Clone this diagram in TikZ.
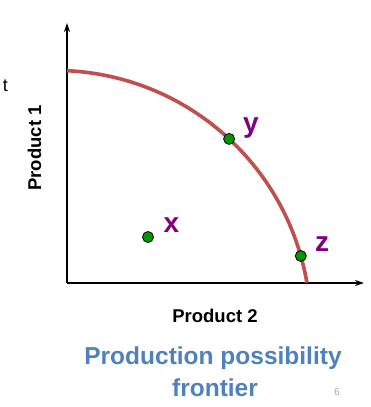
\documentclass[tikz,border=0pt]{standalone}
\usepackage{fontspec}
\setmainfont{Liberation Sans}
\usetikzlibrary{arrows.meta}
\definecolor{ppfred}{RGB}{192,80,77}
\definecolor{ptgreen}{RGB}{0,150,0}
\definecolor{ptpurple}{RGB}{128,0,128}
\definecolor{ttlblue}{RGB}{79,129,189}
\begin{document}
\begin{tikzpicture}[x=1pt,y=1pt,
  axis/.style={line width=1.4pt,-{Stealth[length=9pt,width=6pt]}},
  frontier/.style={ppfred,line width=3.6pt},
  dot/.style={circle,draw=black,line width=0.8pt,fill=ptgreen,minimum size=11pt,inner sep=0pt},
  ptlabel/.style={ptpurple,font=\fontsize{28}{30}\selectfont\bfseries,anchor=base,inner sep=0pt},
  axlabel/.style={font=\fontsize{18.5}{20}\selectfont\bfseries,anchor=base,inner sep=0pt}]
  \useasboundingbox (-67,-124) rectangle (304,283);
  % Axes
  \coordinate (o) at (0,0);
  \coordinate (ytip) at (0,260);
  \coordinate (xtip) at (297,0);
  \draw[axis] (o) -- (ytip);
  \draw[axis] (o) -- (xtip);
  % Frontier
  \coordinate (c) at (-12,-43);
  \draw[frontier] ([shift={(87.3:255.6pt)}]c) arc[start angle=87.3,end angle=9.75,radius=255.6pt];
  % Points
  \node[dot] (px) at (81,46) {};
  \node[dot] (py) at ([shift={(47.06:255.6pt)}]c) {};
  \node[dot] (pz) at ([shift={(15.9:255.6pt)}]c) {};
  \node[ptlabel] (lx) at (104.5,51) {x};
  \node[ptlabel] (ly) at (184,150) {y};
  \node[ptlabel] (lz) at (255,32) {z};
  % Axis labels
  \node[axlabel] (p2) at (148,-39) {Product 2};
  \node[axlabel,rotate=90] (p1) at (-26,135) {Product 1};
  \node[font=\fontsize{18}{20}\selectfont,anchor=base east,inner sep=0pt] (cut) at (-59,191) {t};
  % Title
  \node[ttlblue,font=\fontsize{24.5}{28}\selectfont\bfseries,anchor=base,inner sep=0pt] (ttl1) at (146,-81) {Production possibility};
  \node[ttlblue,font=\fontsize{24.5}{28}\selectfont\bfseries,anchor=base,inner sep=0pt] (ttl2) at (148,-113) {frontier};
  \node[gray!70,font=\fontsize{10}{12}\selectfont,anchor=base,inner sep=0pt] (pg) at (270,-112) {6};
\end{tikzpicture}
\end{document}
